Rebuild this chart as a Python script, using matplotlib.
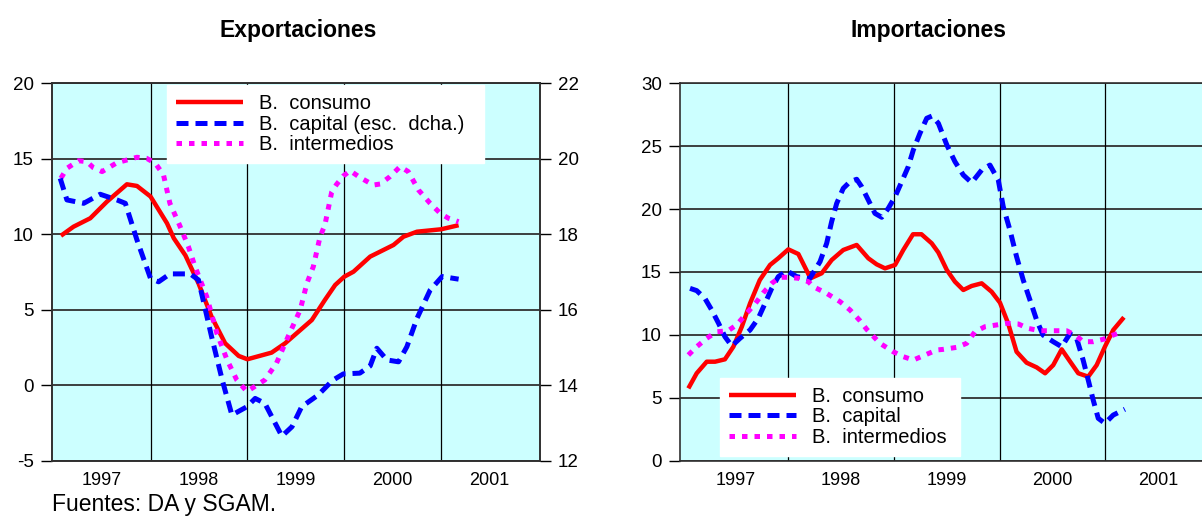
import matplotlib.pyplot as plt
from matplotlib.lines import Line2D

plt.rcParams['font.family'] = ['Liberation Sans', 'DejaVu Sans']
plt.rcParams['axes.unicode_minus'] = False

# Exportaciones (fechas en años decimales)
exp_cons_t = [1997.075, 1997.205, 1997.378, 1997.55, 1997.756, 1997.86, 1998.0, 1998.17, 1998.24,
              1998.36, 1998.495, 1998.63, 1998.77, 1998.91, 1999.0, 1999.25, 1999.39, 1999.665,
              1999.80, 1999.906, 2000.0, 2000.095, 2000.267, 2000.508, 2000.611, 2000.75, 2001.0, 2001.18]
exp_cons = [9.9, 10.5, 11.06, 12.16, 13.31, 13.2, 12.5, 10.73, 9.74,
            8.6, 6.75, 4.54, 2.78, 1.94, 1.72, 2.16, 2.78, 4.32,
            5.65, 6.64, 7.19, 7.52, 8.52, 9.29, 9.84, 10.17, 10.33, 10.6]

# capital, escala derecha
exp_cap_t = [1997.068, 1997.137, 1997.31, 1997.48, 1997.653, 1997.74, 1997.86, 1998.0, 1998.083,
             1998.2, 1998.41, 1998.495, 1998.63, 1998.74, 1998.84, 1998.995, 1999.08, 1999.18,
             1999.356, 1999.46, 1999.56, 1999.73, 1999.88, 1999.99, 2000.16, 2000.267, 2000.336,
             2000.44, 2000.56, 2000.646, 2000.75, 2000.886, 2001.01, 2001.18]
exp_cap = [19.48, 18.91, 18.82, 19.06, 18.91, 18.82, 17.85, 16.83, 16.74,
           16.95, 16.95, 16.79, 15.29, 14.14, 13.21, 13.43, 13.65, 13.52,
           12.65, 12.90, 13.43, 13.74, 14.13, 14.30, 14.32, 14.51, 14.98,
           14.67, 14.62, 15.02, 15.77, 16.52, 16.88, 16.81]

exp_int_t = [1997.075, 1997.137, 1997.257, 1997.343, 1997.41, 1997.5, 1997.653, 1997.86, 1997.96,
             1998.05, 1998.134, 1998.2, 1998.3, 1998.39, 1998.46, 1998.58, 1998.685, 1998.79,
             1998.89, 1998.995, 1999.18, 1999.30, 1999.42, 1999.545, 1999.614, 1999.68, 1999.75,
             1999.80, 1999.87, 1999.92, 1999.99, 2000.06, 2000.16, 2000.30, 2000.37, 2000.47,
             2000.576, 2000.66, 2000.766, 2000.886, 2000.99, 2001.075, 2001.18]
exp_int = [13.71, 14.37, 14.87, 14.81, 14.41, 14.15, 14.74, 15.1, 15.03,
           14.7, 13.93, 12.05, 10.6, 9.2, 7.85, 5.87, 3.44, 1.68,
           0.35, -0.42, 0.35, 1.46, 3.22, 4.99, 6.75, 7.85, 9.84,
           10.62, 12.8, 13.3, 13.86, 14.21, 13.77, 13.26, 13.33, 13.81,
           14.48, 14.15, 12.93, 12.05, 11.39, 11.06, 10.83]

# Importaciones
imp_cons_t = [1997.054, 1997.133, 1997.228, 1997.307, 1997.40, 1997.48, 1997.56, 1997.638, 1997.73,
              1997.827, 1997.905, 1998.0, 1998.095, 1998.21, 1998.316, 1998.41, 1998.52, 1998.647,
              1998.757, 1998.836, 1998.915, 1999.01, 1999.088, 1999.18, 1999.26, 1999.357, 1999.42,
              1999.50, 1999.577, 1999.656, 1999.735, 1999.83, 1999.924, 2000.003, 2000.08, 2000.16,
              2000.255, 2000.35, 2000.43, 2000.507, 2000.587, 2000.665, 2000.744, 2000.838, 2000.918,
              2000.996, 2001.075, 2001.176]
imp_cons = [5.75, 6.95, 7.87, 7.87, 8.06, 9.06, 10.65, 12.51, 14.36,
            15.56, 16.09, 16.8, 16.43, 14.5, 14.9, 15.95, 16.75, 17.15,
            16.09, 15.61, 15.29, 15.56, 16.75, 18.0, 18.0, 17.28, 16.55,
            15.16, 14.23, 13.57, 13.89, 14.1, 13.43, 12.56, 10.92, 8.66,
            7.79, 7.42, 6.95, 7.6, 8.85, 7.9, 6.95, 6.68, 7.6,
            9.06, 10.39, 11.4]

imp_cap_t = [1997.07, 1997.133, 1997.21, 1997.275, 1997.34, 1997.40, 1997.465, 1997.543, 1997.638,
             1997.716, 1997.78, 1997.843, 1997.905, 1997.985, 1998.08, 1998.2, 1998.30, 1998.363,
             1998.41, 1998.458, 1998.52, 1998.584, 1998.647, 1998.694, 1998.757, 1998.82, 1998.884,
             1998.946, 1999.01, 1999.073, 1999.135, 1999.183, 1999.246, 1999.31, 1999.36, 1999.42,
             1999.50, 1999.577, 1999.656, 1999.735, 1999.83, 1999.908, 1999.987, 2000.034, 2000.097,
             2000.16, 2000.223, 2000.287, 2000.35, 2000.41, 2000.507, 2000.587, 2000.665, 2000.728,
             2000.79, 2000.838, 2000.885, 2000.933, 2000.996, 2001.075, 2001.185]
imp_cap = [13.7, 13.52, 12.91, 11.98, 10.92, 9.86, 9.12, 9.73, 10.39,
           11.32, 12.51, 13.7, 14.63, 15.1, 14.63, 14.45, 15.82, 17.28,
           19.0, 20.46, 21.65, 22.18, 22.37, 21.78, 20.72, 19.66, 19.35,
           20.06, 20.98, 22.18, 23.37, 24.7, 26.03, 27.22, 27.4, 26.82,
           25.1, 23.77, 22.71, 22.1, 23.11, 23.5, 22.31, 20.19, 18.34,
           16.22, 14.36, 12.77, 11.18, 9.99, 9.46, 9.06, 10.1, 9.73,
           8.0, 6.42, 4.83, 3.37, 2.97, 3.63, 4.09]

imp_int_t = [1997.054, 1997.133, 1997.228, 1997.323, 1997.43, 1997.51, 1997.606, 1997.685, 1997.764,
             1997.843, 1997.92, 1998.0, 1998.095, 1998.19, 1998.237, 1998.363, 1998.49, 1998.584,
             1998.678, 1998.742, 1998.868, 1998.993, 1999.088, 1999.183, 1999.293, 1999.404, 1999.466,
             1999.593, 1999.688, 1999.766, 1999.861, 1999.97, 2000.066, 2000.176, 2000.27, 2000.38,
             2000.507, 2000.634, 2000.728, 2000.79, 2000.885, 2000.98, 2001.075, 2001.12]
imp_int = [8.4, 9.06, 9.73, 10.25, 10.33, 10.79, 11.72, 12.46, 13.36,
           14.1, 14.58, 14.58, 14.5, 14.23, 13.83, 13.3, 12.64, 11.98,
           11.13, 10.44, 9.33, 8.66, 8.27, 8.0, 8.4, 8.8, 8.85,
           9.01, 9.33, 10.25, 10.65, 10.79, 10.92, 10.87, 10.52, 10.33,
           10.33, 10.33, 9.91, 9.46, 9.46, 9.65, 9.99, 10.13]

years = [1997, 1998, 1999, 2000, 2001]

BG = '#CCFFFF'
RED = dict(color='#FF0000', lw=3.2, solid_capstyle='butt')
BLUE = dict(color='#0000FF', lw=3.6, dashes=(2.4, 1.4))
MAG = dict(color='#FF00FF', lw=3.6, dashes=(1.1, 1.4))


def style_axes(ax, ylo, yhi, step):
    ax.set_facecolor(BG)
    ax.set_ylim(ylo, yhi)
    ax.set_yticks(range(ylo, yhi + 1, step))
    ax.set_xticks([y + 1 for y in years[:-1]])
    ax.set_xticks([y + 0.5 for y in years], minor=True)
    ax.set_xticklabels([])
    ax.set_xticklabels([str(y) for y in years], minor=True)
    ax.tick_params(axis='x', which='both', length=0, labelsize=13, pad=8)
    ax.tick_params(axis='y', direction='out', length=8, width=1, labelsize=13.5, pad=5)
    for yv in range(ylo, yhi + 1, step):
        ax.axhline(yv, color='#303030', lw=1.3, zorder=1)
    for xv in [y + 1 for y in years[:-1]]:
        ax.axvline(xv, color='black', lw=0.9, zorder=1)
    for s in ax.spines.values():
        s.set_color('#303030')
        s.set_linewidth(1.2)


def white_legend(ax, labels, loc, box):
    hs = [Line2D([], [], **RED), Line2D([], [], **BLUE), Line2D([], [], **MAG)]
    leg = ax.legend(hs, labels, loc=loc, bbox_to_anchor=box, mode='expand',
                    fontsize=14.5, frameon=True, fancybox=False, borderpad=0.45, borderaxespad=0,
                    handlelength=3.3, handletextpad=0.8, labelspacing=0.08)
    leg.get_frame().set_edgecolor('white')
    leg.get_frame().set_facecolor('white')
    leg.get_frame().set_alpha(1)
    return leg


fig = plt.figure(figsize=(12.02, 5.17), dpi=100)

# ---- Exportaciones
ax1 = fig.add_axes([51.7 / 1202, 56.3 / 517, (540 - 51.7) / 1202, 377.4 / 517])
style_axes(ax1, -5, 20, 5)
ax1.set_xlim(1996.98, 2002.02)
ax1.plot(exp_cons_t, exp_cons, zorder=3, **RED)
ax1.plot(exp_int_t, exp_int, zorder=4, **MAG)

ax2 = ax1.twinx()
ax2.set_ylim(12, 22)
ax2.set_yticks(range(12, 23, 2))
ax2.tick_params(axis='y', direction='out', length=8, width=1, labelsize=13.5, pad=5)
ax2.plot(exp_cap_t, exp_cap, zorder=3, **BLUE)
for s in ax2.spines.values():
    s.set_color('#303030')
    s.set_linewidth(1.2)

white_legend(ax2, ['B.  consumo', 'B.  capital (esc.  dcha.)', 'B.  intermedios'],
             'upper left', (0.237, 0.792, 0.648, 0.2035))

fig.text(298.5 / 1202, 1 - 37 / 517, 'Exportaciones', ha='center', va='baseline',
         fontsize=16.5, fontweight='bold')

# ---- Importaciones
ax3 = fig.add_axes([680 / 1202, 56.3 / 517, (1211 - 680) / 1202, 377.4 / 517])
style_axes(ax3, 0, 30, 5)
ax3.set_xlim(1996.975, 2002.0)
ax3.plot(imp_cons_t, imp_cons, zorder=3, **RED)
ax3.plot(imp_cap_t, imp_cap, zorder=3, **BLUE)
ax3.plot(imp_int_t, imp_int, zorder=4, **MAG)

white_legend(ax3, ['B.  consumo', 'B.  capital', 'B.  intermedios'],
             'lower left', (0.0753, 0.0125, 0.452, 0.2013))

fig.text(929 / 1202, 1 - 37 / 517, 'Importaciones', ha='center', va='baseline',
         fontsize=16.5, fontweight='bold')

fig.text(52 / 1202, 1 - 511 / 517, 'Fuentes: DA y SGAM.', ha='left', va='baseline', fontsize=16.5)

fig.savefig('out.png', dpi=100)
